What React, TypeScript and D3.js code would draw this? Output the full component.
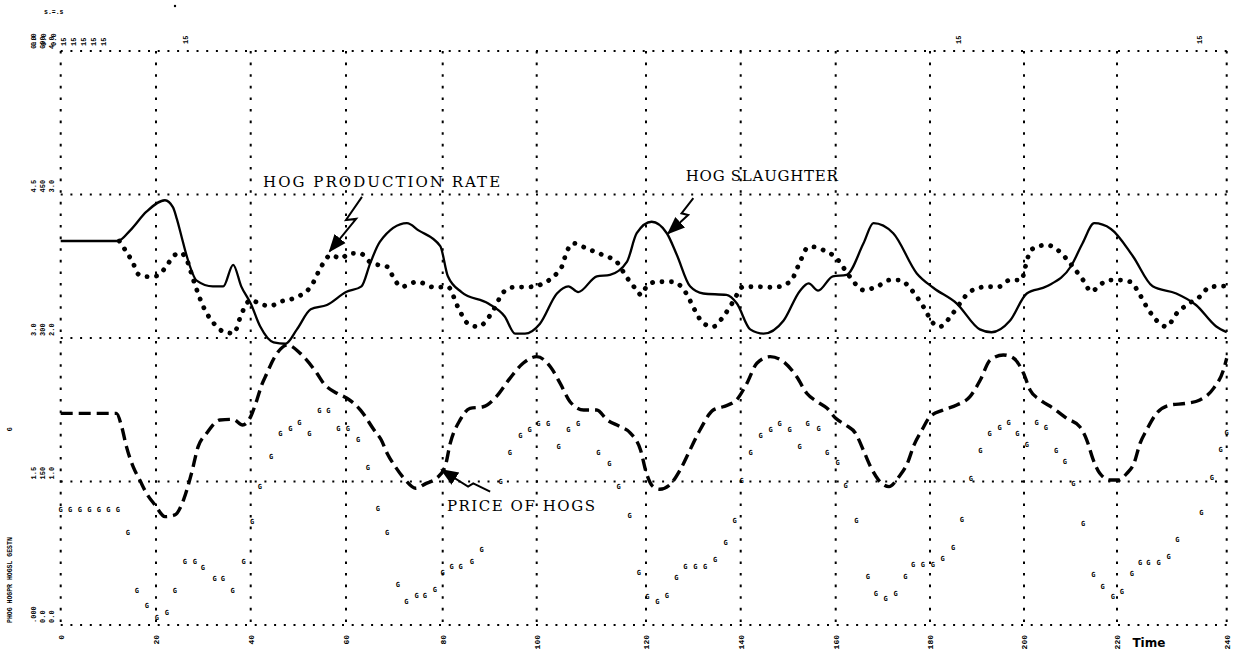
import * as d3 from "d3"

// time axis ticks and the printer's grid columns for them (paper spacing is uneven)
const TIME_TICKS = [0, 20, 40, 60, 80, 100, 120, 140, 160, 180, 200, 220, 240]
const GRID_X = [60.7, 156, 250.7, 346, 442.7, 536.7, 646, 740.7, 835.7, 930, 1024, 1117, 1226.7]
const LEVELS = [0, 100, 200, 300, 400]

// hog slaughter (solid)
const HOG_SLAUGHTER: [number, number][] = [
  [0, 267.6], [12, 267.6], [14.6, 275], [18, 288], [21.9, 296], [23.6, 291], [24.4, 283], [25.4, 270.6],
  [26.5, 257], [28.6, 240], [32, 236], [34.2, 236], [36.3, 251], [38, 236], [40, 224], [42, 208],
  [44.8, 197], [47.3, 196], [49.7, 206], [52.6, 220], [56, 223], [60, 232], [63.2, 236], [65, 252],
  [67, 267], [72.6, 280], [75, 275], [79.5, 264], [81.1, 243], [84, 232], [89.7, 224], [93.2, 215],
  [95.4, 203], [97.5, 203], [100.6, 210], [103.7, 231], [105.8, 236], [107.6, 232], [111, 243],
  [113.4, 244], [116.5, 253], [118.3, 273], [121.2, 281], [124.4, 273], [126.5, 258], [129.3, 236],
  [132.1, 231], [137, 230], [139.2, 224], [142, 206], [144.8, 203], [149, 212], [152.5, 233],
  [154.3, 238], [156.3, 233], [159.4, 243], [162.3, 244], [165.9, 266], [168, 280], [172.2, 273],
  [177.2, 245], [180.7, 235], [185.7, 224], [190.6, 206], [193.1, 204], [197, 212], [200.6, 231],
  [204.9, 236], [210.1, 250], [212.6, 266], [215.1, 280], [218.7, 276], [222.9, 257], [226.5, 236],
  [230.8, 231], [234.4, 223], [238.1, 208], [240, 204],
]

// hog production rate (dotted)
const HOG_PRODUCTION: [number, number][] = [
  [12.3, 267.6], [13.1, 263.6], [15.2, 252.1], [16.3, 244.4], [18.4, 242.7], [20.1, 243.2], [21.9, 248.6],
  [23.7, 257.1], [25.1, 259.4], [26.5, 254.4], [27.9, 240.4], [30, 221.8], [32.2, 210.2], [34.3, 204.4],
  [36.4, 203.3], [38.1, 217.2], [40, 226.5], [42, 223.7], [44.1, 222.3], [46.2, 225.3], [49, 227.7],
  [52.6, 235.7], [55, 250.9], [56.8, 257.8], [58.9, 255.5], [60.8, 259], [62.9, 259], [65.3, 252.1],
  [68.5, 249.7], [69.9, 241.6], [71.4, 235.7], [74.8, 239.2], [78.3, 235.3], [81.1, 235.7], [83.2, 221.8],
  [85.3, 210.2], [87.5, 207.9], [91, 220.7], [92.7, 231.1], [94.9, 235.3], [98.8, 235.7], [101.8, 239.2],
  [103.7, 245.1], [104.6, 249.7], [105.5, 260.1], [106.7, 266], [109.1, 262.5], [112.1, 257.8],
  [114.6, 253.2], [116.4, 242.7], [118.3, 233.4], [119.1, 230], [120.1, 235.7], [122.2, 239.2],
  [125.7, 239.2], [128.5, 231.1], [130.3, 219.5], [132.1, 210.2], [134.2, 207.9], [136.3, 214.8],
  [138.4, 225.3], [140.5, 235.7], [144, 235.7], [146.9, 235.3], [150.4, 239.2], [152.5, 253.2],
  [153.9, 262.5], [154.9, 263.6], [157.4, 261.3], [160.2, 255.5], [163, 242.7], [165.9, 233.4],
  [168.7, 235.7], [171.5, 240.4], [173.6, 240.4], [176.1, 233.4], [178.6, 221.8], [180.7, 210.2],
  [182.1, 207.9], [184.6, 216], [186.4, 224.2], [188.5, 232.3], [192, 235.7], [194.6, 235.7],
  [197, 240.4], [199.5, 240.4], [200.2, 248.6], [201.3, 260.1], [202.7, 263.6], [204.9, 264.8],
  [207.7, 260.1], [209.9, 252.1], [212.7, 240.4], [214.5, 232.3], [216.3, 237], [218.4, 240.4],
  [220.5, 240.4], [222.4, 239.2], [224.2, 230], [225.4, 221.8], [227.8, 210.2], [229, 207.9],
  [230.9, 217.2], [232.7, 223], [235.1, 228.8], [237, 235.7], [240, 236.2],
]

// price of hogs (dashed)
const PRICE_OF_HOGS: [number, number][] = [
  [0, 147.5], [11.7, 147.5], [12.8, 138.2], [13.8, 124.3], [15.2, 110.3], [16.6, 101], [18, 91.8],
  [19.8, 83.6], [21.9, 75.5], [24, 76.7], [25.8, 87.1], [27.5, 105.7], [28.9, 124.3], [30.7, 133.6],
  [33.5, 142.9], [36.3, 143.3], [38.3, 139.4], [40, 145.2], [41.3, 156.8], [42.3, 167.2], [43.4, 175.4],
  [44.7, 184.7], [47.7, 195.1], [50.4, 189.3], [53.9, 175.4], [55.3, 168.4], [58.1, 161.5], [60.2, 158],
  [63, 149.8], [65.8, 135.9], [67.3, 128.9], [68.5, 119.7], [70.2, 110.3], [72.3, 101], [74.4, 95.3],
  [76.6, 98.7], [78.7, 102.2], [80.5, 110.3], [81.6, 126.6], [83.7, 142.9], [85.8, 151], [88.6, 152.1],
  [91.4, 159.1], [94.3, 171.9], [97.1, 182.4], [100, 187], [102.5, 180], [104.3, 168.4], [106.1, 155.6],
  [108.6, 149.8], [111, 149.8], [112.9, 142.9], [115.3, 138.2], [117.2, 133.6], [119, 122], [120.1, 105.7],
  [121.5, 96.4], [122.9, 94.6], [125, 97.6], [127.2, 108], [129.3, 122], [131.4, 135.9], [134.2, 149.8],
  [136.3, 152.1], [139.1, 156.8], [141.3, 168.4], [143.4, 182.4], [146.2, 187], [149, 183.5],
  [151.8, 173], [153.9, 161.5], [156.1, 155.6], [158.2, 151], [160, 144], [162.1, 139.4], [164.2, 133.6],
  [166, 120.8], [167.4, 110.3], [169.1, 101], [171.3, 96.4], [173.4, 103.3], [175.2, 112.7],
  [176.6, 125.4], [178.3, 135.9], [180, 145.2], [182.8, 149.8], [185.7, 153.3], [188.5, 159.1],
  [190.7, 170.7], [192.8, 184.7], [195.6, 188.2], [197.8, 185.9], [199.9, 175.4], [201.3, 163.8],
  [203.5, 156.8], [206.3, 151], [209.2, 144], [212, 138.2], [213.5, 128.9], [214.9, 115], [216.3, 105.7],
  [218.5, 101], [220.3, 101], [221.8, 105.7], [223.1, 112.7], [224.2, 126.6], [225.4, 135.9],
  [227.2, 147.5], [229.7, 153.3], [232.7, 154.5], [235.1, 156.8], [237.6, 164.9], [239.4, 177.7],
  [240, 185.9],
]

// "G" plot characters
const G_POINTS: [number, number][] = [
  [0, 80.1], [2, 80.1], [4, 80.1], [6, 80.1], [8, 80.1], [10, 80.1], [12, 80.1],
  [14.1, 64.1], [16, 23.7], [18.1, 13.2], [20.2, 4.9], [22.3, 8.4], [24, 23.7], [26.1, 43.9], [28.2, 43.9],
  [29.9, 39.7], [32.4, 32.1], [34.1, 32.1], [36.2, 23.7], [38.5, 43.9], [40.3, 71.8], [41.9, 96.2],
  [44.3, 117.1], [46.2, 133.1], [48.3, 136.6], [50.2, 140.8], [52.3, 133.1], [54.4, 149.1], [56.3, 149.1],
  [58.4, 136.6], [60.4, 136.6], [62.5, 128.9], [64.5, 109.4], [66.6, 80.8], [68.5, 63.9], [70.7, 27.9],
  [72.5, 16.2], [74.6, 20.2], [76.3, 20.2], [78.4, 24.4], [80, 36.4], [81.9, 40.2], [83.8, 40.2],
  [86.2, 44.1], [88.3, 52.3], [92.3, 100], [94.3, 119.7], [96.5, 131.7], [98.5, 135.9], [100.3, 139.9],
  [102.1, 139.9], [104, 123.8], [105.8, 135.9], [107.6, 139.9], [111.3, 119.7], [113.3, 112], [115, 96],
  [117, 76.2], [118.7, 36], [120.3, 19.7], [122.4, 16.2], [124.4, 20.2], [126.4, 32.5], [128.3, 40.2],
  [130.4, 40.2], [132.5, 40.2], [134.6, 45.3], [136.8, 56.9], [138.7, 72.5], [140.2, 100.6], [142.1, 120.1],
  [144.2, 131.7], [146.3, 135.9], [148.2, 139.9], [150.3, 135.9], [152.4, 124.3], [154.1, 139.9],
  [156.4, 136.4], [158.2, 120.1], [160.4, 112.7], [162.1, 96.9], [164.4, 72.7], [166.8, 33.2],
  [168.5, 21.6], [170.6, 17.9], [172.7, 21.6], [174.8, 33.2], [176.4, 41.8], [178.5, 41.8], [180.6, 41.8],
  [182.7, 45.8], [184.9, 53.4], [186.8, 73.2], [188.7, 101.5], [190.7, 121.5], [192.7, 133.1],
  [194.8, 137.1], [196.7, 141], [198.6, 133.1], [200.6, 125.4], [202.7, 141], [204.7, 137.1],
  [206.9, 121.5], [208.8, 113.8], [210.6, 98.3], [212.7, 70.4], [214.9, 34.8], [216.9, 26.7],
  [219.1, 19.3], [220.9, 23.2], [222.7, 35.5], [224.2, 43.4], [225.7, 43.4], [227.6, 43.4], [229.4, 47.6],
  [231, 59.2], [235.4, 78.3], [237.3, 102.2], [238.9, 121.9], [240, 133.6],
]

// callout labels and their zig-zag arrows, in (time, value)
const LABELS = [
  { text: "HOG PRODUCTION RATE", at: [42.6, 305], len: 237, arrow: [[63.3, 298.3], [60, 282.2], [62.1, 283], [56.6, 260.6]] },
  { text: "HOG SLAUGHTER", at: [128.4, 309.4], len: 152, arrow: [[130, 297.4], [127.5, 286.9], [128.9, 285.7], [124.7, 273]] },
  { text: "PRICE OF HOGS", at: [80.9, 79.4], len: 148, arrow: [[90.1, 92.9], [86.5, 98.7], [85.4, 96.4], [79.8, 108]] },
]

// scale annotations printed at the left of each grid level (barely legible on the print)
const LEFT_SCALES = [
  [".000", "0.0", "0.0"],
  ["1.5", "150", "1.0"],
  ["3.0", "300", "2.0"],
  ["4.5", "450", "3.0"],
  ["6.0", "600", "4.0"],
]

const W = 1240
const H = 655
const TOP = 51
const BOTTOM = 625

export default function App() {
  const x = d3.scaleLinear().domain(TIME_TICKS).range(GRID_X)
  const y = d3.scaleLinear().domain([0, 400]).range([BOTTOM, TOP])
  const line = d3.line<[number, number]>()
    .x(d => x(d[0]))
    .y(d => y(d[1]))
    .curve(d3.curveMonotoneX)
  const arrowLine = d3.line<number[]>().x(d => x(d[0])).y(d => y(d[1]))
  const mono = "'Liberation Mono', 'DejaVu Sans Mono', monospace"
  const typewriter = "'DejaVu Serif', 'Liberation Serif', serif"

  return (
    <svg width={W} height={H} style={{ position: "absolute", left: 0, top: 0, background: "#fff" }}>
      <defs>
        <marker id="head" viewBox="0 0 10 10" refX="9" refY="5" markerWidth="9" markerHeight="9" orient="auto">
          <path d="M0,1 L10,5 L0,9 z" fill="#000" />
        </marker>
      </defs>
      <rect width={W} height={H} fill="#fff" />

      {/* dotted grid */}
      {LEVELS.map(l => (
        <line key={"h" + l} x1={GRID_X[0]} x2={GRID_X[GRID_X.length - 1]} y1={y(l)} y2={y(l)}
          stroke="#000" strokeWidth={2.2} strokeDasharray="2 7.7" />
      ))}
      {TIME_TICKS.map(t => (
        <line key={"v" + t} x1={x(t)} x2={x(t)} y1={TOP} y2={BOTTOM}
          stroke="#000" strokeWidth={2} strokeDasharray="2.6 9" />
      ))}

      {/* time tick labels, printed sideways */}
      {TIME_TICKS.map(t => (
        <text key={"t" + t} transform={`translate(${x(t) + 3},${BOTTOM + 10}) rotate(-90)`}
          textAnchor="end" fontFamily={mono} fontWeight={700} fontSize={8}>{t}</text>
      ))}
      <text x={x(229) - 1} y={H - 8} textAnchor="end" fontFamily="'DejaVu Sans', sans-serif"
        fontWeight={700} fontSize={12}>Time</text>

      {/* left scale annotations */}
      {LEVELS.map((l, i) => LEFT_SCALES[i].map((s, j) => (
        <text key={"ls" + i + j} transform={`translate(${36 + j * 9},${y(l) - 2}) rotate(-90)`}
          fontFamily={mono} fontWeight={700} fontSize={7}>{s}</text>
      )))}
      <text transform={`translate(12,${BOTTOM - 2}) rotate(-90)`} fontFamily={mono} fontSize={6.5}
        fontWeight={700}>PHOG  HOGPR  HOGSL  GESTN</text>
      <text transform={`translate(12,${y(135)}) rotate(-90)`} fontFamily={mono} fontSize={6.5}
        fontWeight={700}>G</text>

      {/* header row */}
      <text transform="translate(44,14)" fontFamily={mono} fontSize={6.5} fontWeight={700}>s.=.s</text>
      {d3.range(8).map(i => (
        <text key={"hd" + i} transform={`translate(${36 + i * 10},46) rotate(-90)`}
          fontFamily={mono} fontWeight={700} fontSize={7}>{i < 3 ? "0.0" : "15"}</text>
      ))}
      {[185, 958, 1199].map(px => (
        <text key={"hx" + px} transform={`translate(${px + 3},44) rotate(-90)`}
          fontFamily={mono} fontWeight={700} fontSize={7}>15</text>
      ))}
      <circle cx={175} cy={6} r={1.2} fill="#000" />

      {/* G characters */}
      {G_POINTS.map((d, i) => (
        <text key={"g" + i} x={x(d[0])} y={y(d[1])} textAnchor="middle" dominantBaseline="central"
          fontFamily="'DejaVu Sans Mono', monospace" fontSize={7} fontWeight={700}>G</text>
      ))}

      {/* curves */}
      <path d={line(PRICE_OF_HOGS) ?? ""} fill="none" stroke="#000" strokeWidth={3.4} strokeDasharray="12 6" />
      <path d={line(HOG_PRODUCTION) ?? ""} fill="none" stroke="#000" strokeWidth={4.8}
        strokeDasharray="0.1 9.4" strokeLinecap="round" />
      <path d={line(HOG_SLAUGHTER) ?? ""} fill="none" stroke="#000" strokeWidth={2.3} />

      {/* callouts */}
      {LABELS.map(l => (
        <g key={l.text}>
          <text x={x(l.at[0])} y={y(l.at[1])} fontFamily={typewriter} fontSize={15} textLength={l.len}
            lengthAdjust="spacing">{l.text}</text>
          <path d={arrowLine(l.arrow) ?? ""} fill="none" stroke="#000" strokeWidth={2} markerEnd="url(#head)" />
        </g>
      ))}
    </svg>
  )
}
